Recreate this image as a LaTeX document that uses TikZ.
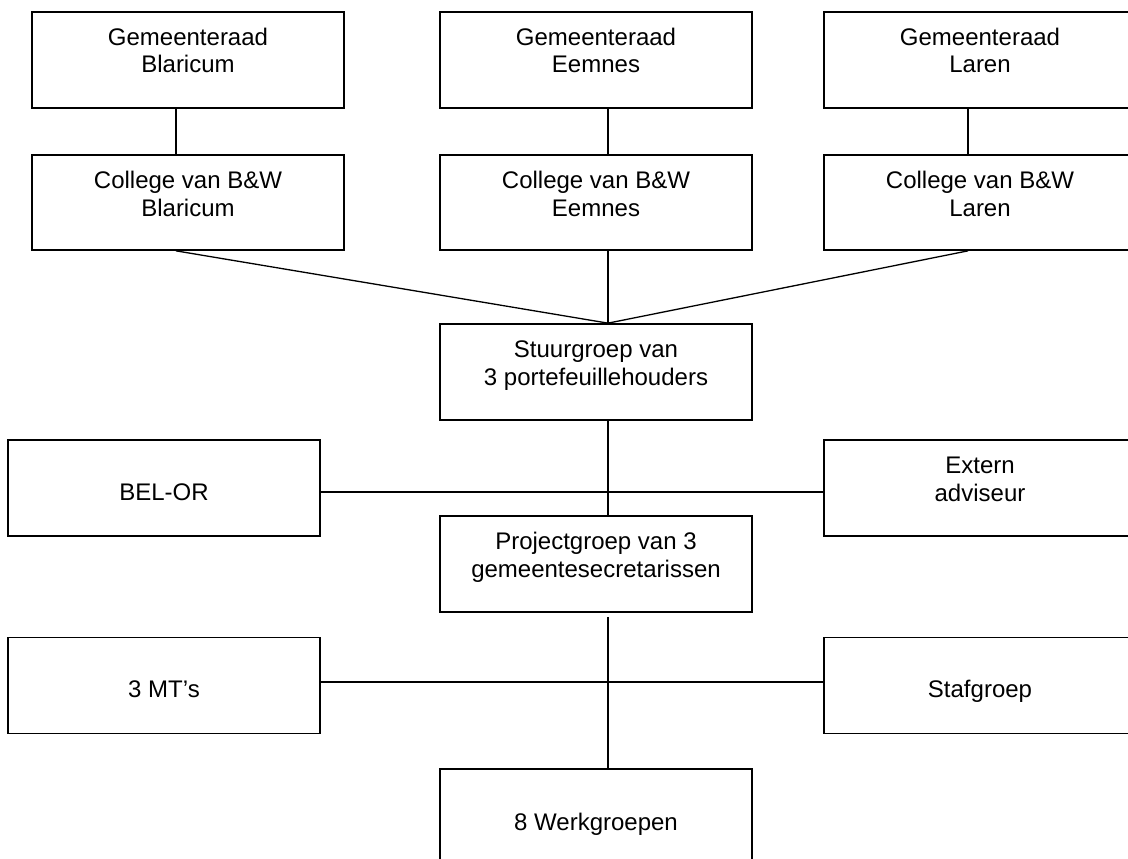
\documentclass[tikz,border=0pt]{standalone}
\usepackage{fontspec}
\setmainfont{Liberation Sans}
\begin{document}
\begin{tikzpicture}[x=1pt,y=-1pt,
  orgbox/.style={draw=black, line width=1.7pt, minimum width=312pt, minimum height=96pt, inner sep=0pt},
  orgtxt/.style={anchor=base, inner sep=0pt, font=\fontsize{24}{27.5}\selectfont},
  conn/.style={draw=black, line width=1.3pt}]
\useasboundingbox (0,0) rectangle (1128,859);
\clip (0,0) rectangle (1128,859);
% boxes
\node[orgbox] (gb) at (188,60) {};
\node[orgbox] (ge) at (596,60) {};
\node[orgbox] (gl) at (980,60) {};
\node[orgbox, minimum height=95pt] (cb) at (188,202.5) {};
\node[orgbox, minimum height=95pt] (ce) at (596,202.5) {};
\node[orgbox, minimum height=95pt] (cl) at (980,202.5) {};
\node[orgbox] (sg) at (596,372) {};
\node[orgbox] (bel) at (164,488) {};
\node[orgbox] (ext) at (980,488) {};
\node[orgbox] (pg) at (596,564) {};
\node[orgbox] (mt) at (164,685.5) {};
\node[orgbox] (staf) at (980,685.5) {};
\node[orgbox] (wg) at (596,817) {};
% texts
\node[orgtxt] (gbt1) at (188,45.5) {Gemeenteraad};
\node[orgtxt] (gbt2) at (188,73) {Blaricum};
\node[orgtxt] (get1) at (596,45.5) {Gemeenteraad};
\node[orgtxt] (get2) at (596,73) {Eemnes};
\node[orgtxt] (glt1) at (980,45.5) {Gemeenteraad};
\node[orgtxt] (glt2) at (980,73) {Laren};
\node[orgtxt] (cbt1) at (188,188.5) {College van B\&W};
\node[orgtxt] (cbt2) at (188,216) {Blaricum};
\node[orgtxt] (cet1) at (596,188.5) {College van B\&W};
\node[orgtxt] (cet2) at (596,216) {Eemnes};
\node[orgtxt] (clt1) at (980,188.5) {College van B\&W};
\node[orgtxt] (clt2) at (980,216) {Laren};
\node[orgtxt] (sgt1) at (596,357.5) {Stuurgroep van};
\node[orgtxt] (sgt2) at (596,385) {3 portefeuillehouders};
\node[orgtxt] (belt) at (164,500) {BEL-OR};
\node[orgtxt] (extt1) at (980,473.5) {Extern};
\node[orgtxt] (extt2) at (980,501) {adviseur};
\node[orgtxt] (pgt1) at (596,549.5) {Projectgroep van 3};
\node[orgtxt] (pgt2) at (596,577) {gemeentesecretarissen};
\node[orgtxt] (mtt) at (164,697) {3 MT’s};
\node[orgtxt] (staft) at (980,697) {Stafgroep};
\node[orgtxt] (wgt) at (596,830) {8 Werkgroepen};
% connectors
\draw[conn] ([xshift=-12pt]gb.south) -- ([xshift=-12pt]cb.north);
\draw[conn] ([xshift=12pt]ge.south) -- ([xshift=12pt]ce.north);
\draw[conn] ([xshift=-12pt]gl.south) -- ([xshift=-12pt]cl.north);
\draw[conn] ([xshift=-12pt]cb.south) -- ([xshift=12pt]sg.north);
\draw[conn] ([xshift=12pt]ce.south) -- ([xshift=12pt]sg.north);
\draw[conn] ([xshift=-12pt]cl.south) -- ([xshift=12pt]sg.north);
\draw[conn] ([xshift=12pt]sg.south) -- ([xshift=12pt]pg.north);
\draw[conn] ([yshift=-4pt]bel.east) -- ([yshift=-4pt]ext.west);
\draw[conn] ([xshift=12pt,yshift=-4pt]pg.south) -- ([xshift=12pt]wg.north);
\draw[conn] ([yshift=3.5pt]mt.east) -- ([yshift=3.5pt]staf.west);
\end{tikzpicture}
\end{document}
